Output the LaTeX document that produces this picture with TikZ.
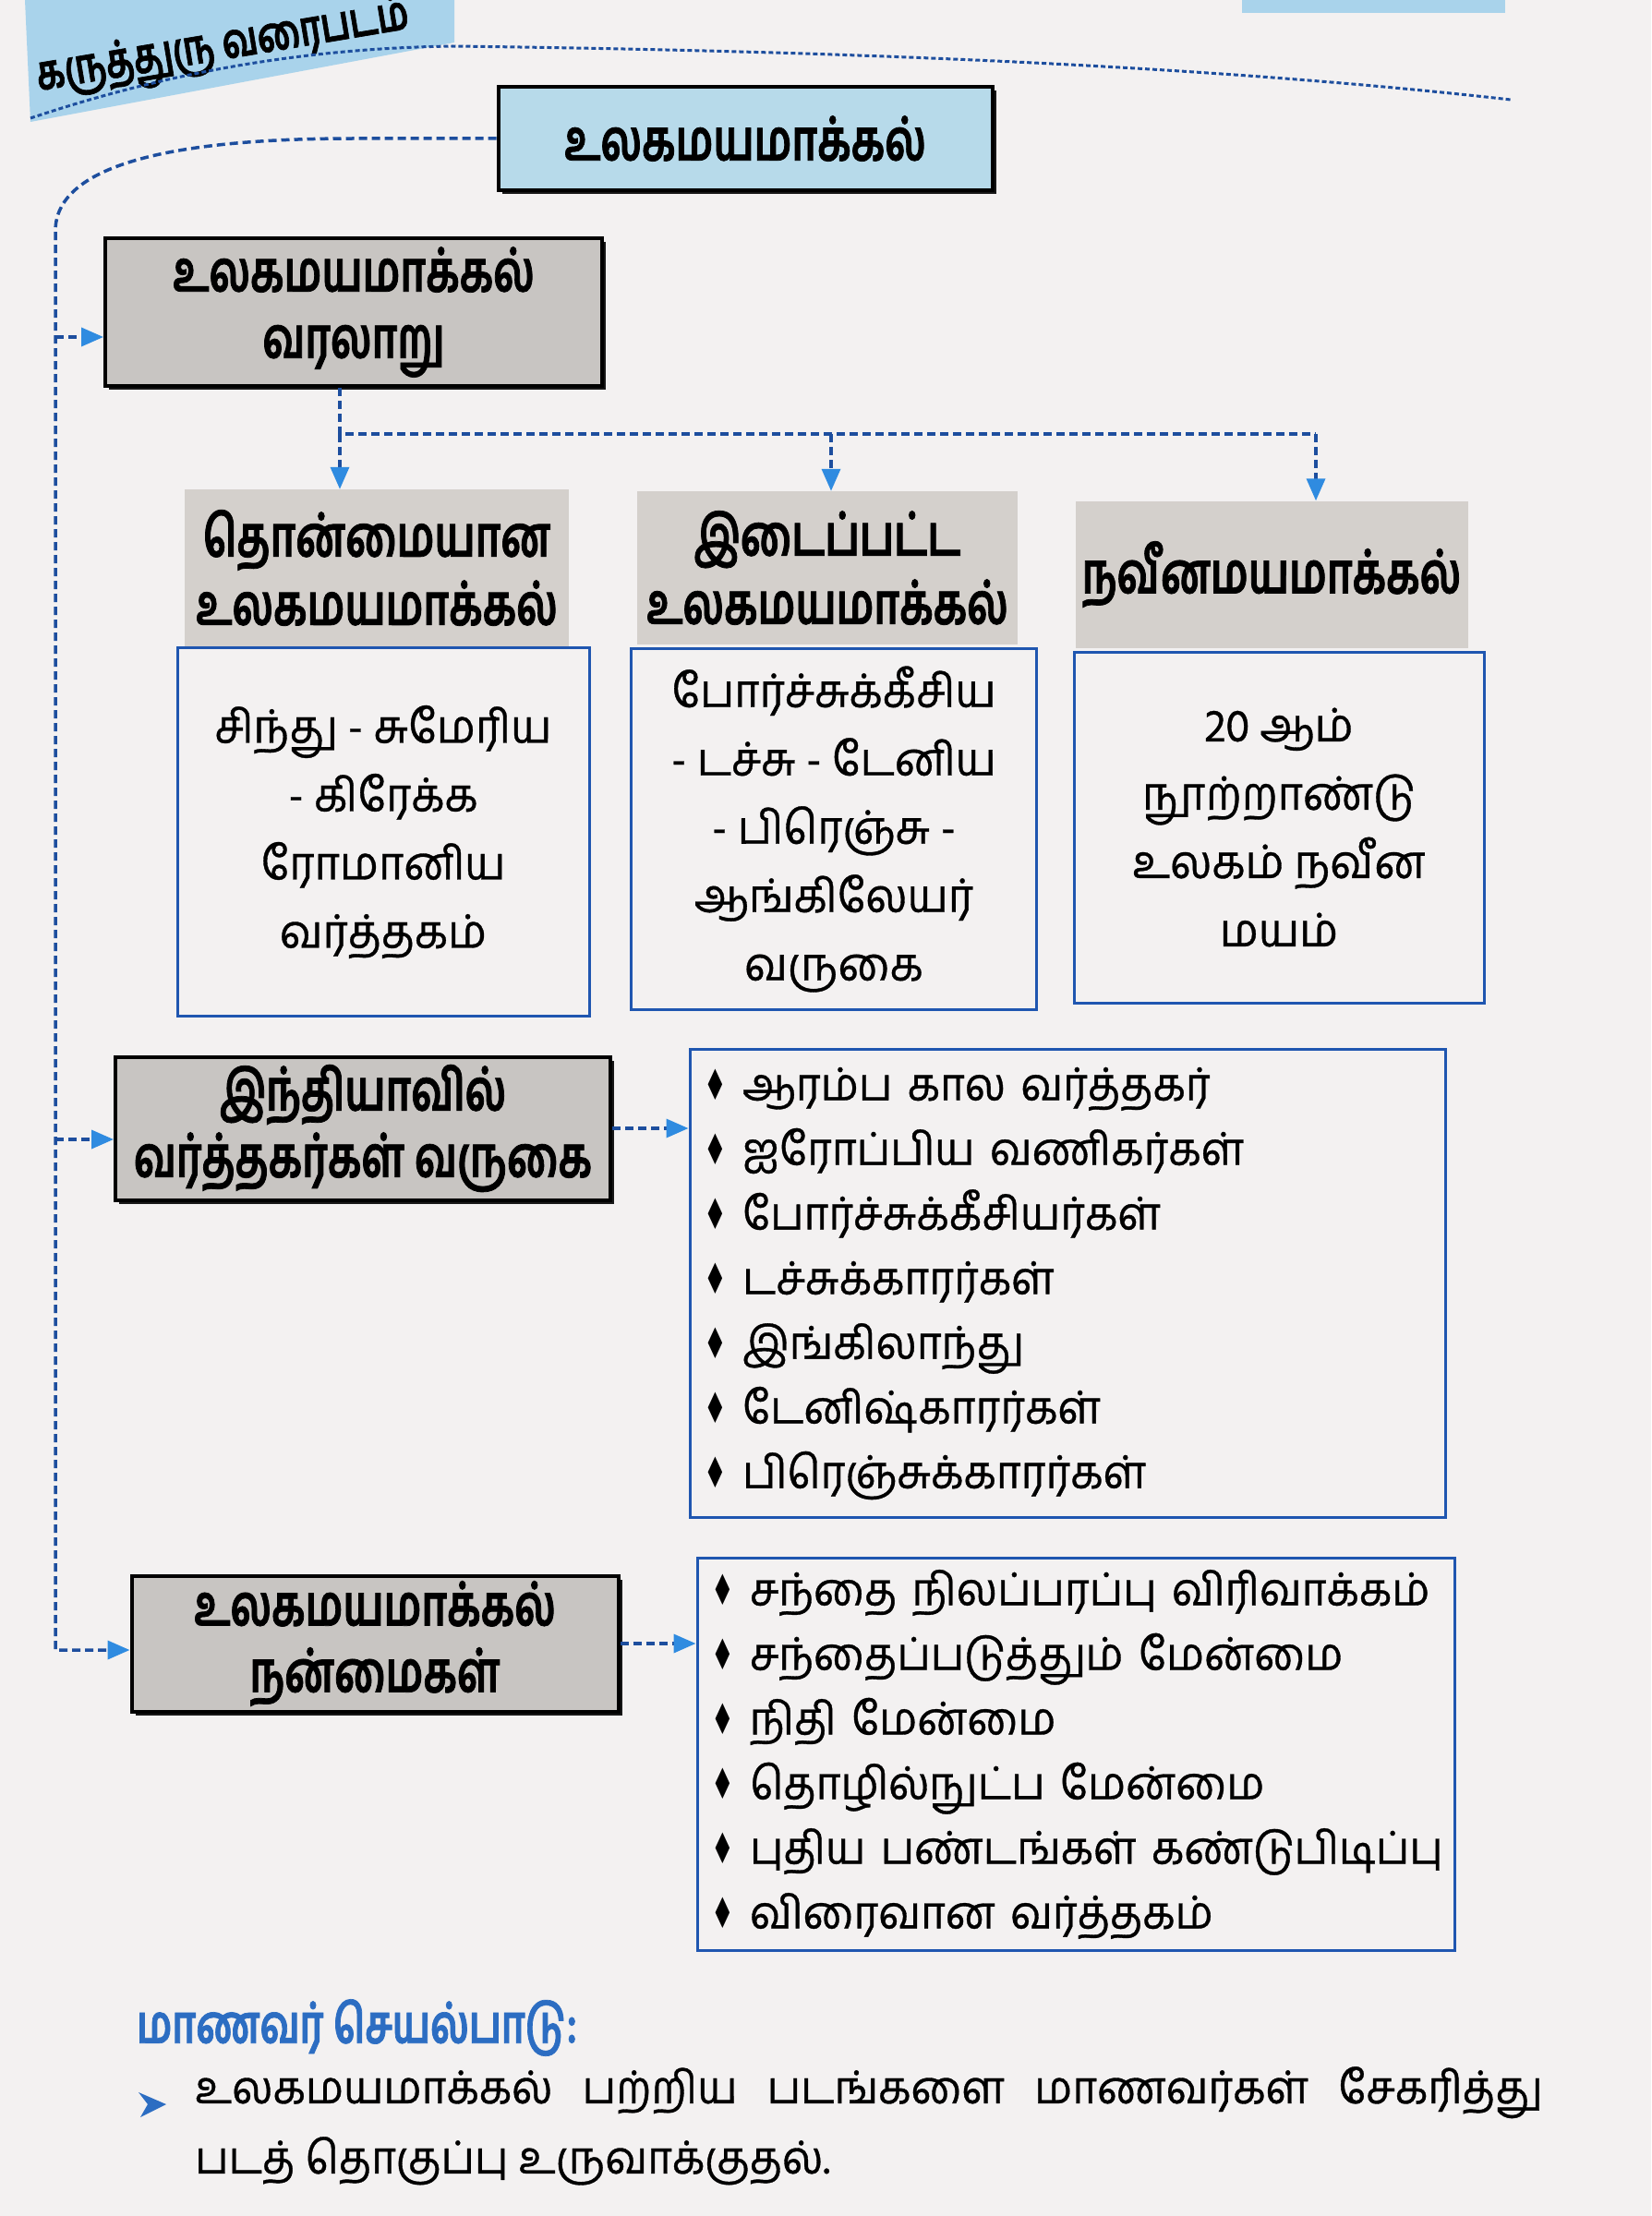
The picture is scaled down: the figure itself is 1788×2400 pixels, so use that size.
\documentclass[tikz,border=0pt]{standalone}
\usepackage{fontspec}
\newfontfamily\tam[Script=Tamil, FakeStretch=0.94, FakeBold=0.7]{Hind Madurai}
\newfontfamily\tamc[Script=Tamil, FakeStretch=0.72, FakeBold=1.2]{Hind Madurai}
\newfontfamily\djv{DejaVu Sans}
\usetikzlibrary{arrows.meta,shadows}
\definecolor{pagebg}{HTML}{F3F1F1}
\definecolor{tabblue}{HTML}{A9D3EB}
\definecolor{titleblue}{HTML}{B7DAEA}
\definecolor{boxgray}{HTML}{C8C5C2}
\definecolor{hdrgray}{HTML}{D4D0CC}
\definecolor{boxblue}{HTML}{1F56B0}
\definecolor{dashblue}{HTML}{1D4E9E}
\definecolor{arrblue}{HTML}{2F8BE0}
\definecolor{actblue}{HTML}{2C6DC2}
\newcommand\bul{\makebox[42pt][l]{\scalebox{0.6}[1.0]{\djv\fontsize{46}{46}\selectfont ♦}}}
\tikzset{
  boldtxt/.style={font=\tamc\bfseries\fontsize{62}{72}\selectfont},
  boxshadow/.style={drop shadow={shadow xshift=4pt, shadow yshift=-4pt, fill=black, opacity=0.9}},
  gbox/.style={draw=black, line width=4pt, fill=boxgray, inner sep=0pt, align=center, boldtxt, boxshadow},
  tbox/.style={draw=black, line width=4pt, fill=titleblue, inner sep=0pt, align=center, boldtxt, boxshadow},
  hdrbox/.style={fill=hdrgray, inner sep=0pt, align=center, font=\tamc\bfseries\fontsize{62}{74}\selectfont},
  bodybox/.style={draw=boxblue, line width=3pt, fill=pagebg, inner sep=0pt, align=center, font=\tam\fontsize{50}{74}\selectfont},
  listbox/.style={draw=boxblue, line width=3pt, fill=pagebg, inner xsep=15pt, inner ysep=0pt, align=left, font=\tam\fontsize{49}{70}\selectfont},
  dl/.style={draw=dashblue, line width=3.5pt, dash pattern=on 9pt off 5pt},
  arr/.style={-{Triangle[length=24pt,width=20pt,color=arrblue]}},
  topdot/.style={draw=dashblue, line width=3pt, dash pattern=on 5pt off 3pt},
}
\begin{document}
\begin{tikzpicture}[x=1pt,y=-1pt]
\fill[pagebg] (0,0) rectangle (1788,2400);
\useasboundingbox (0,0) rectangle (1788,2400);

% header tab
\fill[tabblue] (27,0) -- (492,0) -- (492,46) -- (33,132) -- cycle;
\fill[tabblue] (1345,0) rectangle (1630,14);
\node[rotate=9.5, anchor=base west, font=\tamc\bfseries\fontsize{52}{56}\selectfont, inner sep=0pt] (tabtxt) at (42,98) {கருத்துரு வரைபடம்};
\draw[topdot] (33,128) .. controls (200,72) and (350,52) .. (490,50) .. controls (900,55) and (1300,70) .. (1636,108);

% boxes
\node[tbox, minimum width=535pt, minimum height=112pt] (title) at (807,150) {உலகமயமாக்கல்};
\node[gbox, minimum width=538pt, minimum height=160pt] (hist) at (383,338) {உலகமயமாக்கல்\\வரலாறு};

\node[hdrbox, minimum width=416pt, minimum height=170pt] (hdr1) at (408,615) {தொன்மையான\\உலகமயமாக்கல்};
\node[hdrbox, minimum width=412pt, minimum height=166pt] (hdr2) at (896,615) {இடைப்பட்ட\\உலகமயமாக்கல்};
\node[hdrbox, minimum width=425pt, minimum height=159pt] (hdr3) at (1377,622) {நவீனமயமாக்கல்};

\node[bodybox, minimum width=446pt, minimum height=399pt] (body1) at (415,901) {சிந்து - சுமேரிய\\- கிரேக்க\\ரோமானிய\\வர்த்தகம்};
\node[bodybox, minimum width=439pt, minimum height=391pt] (body2) at (903,898) {போர்ச்சுக்கீசிய\\- டச்சு - டேனிய\\- பிரெஞ்சு -\\ஆங்கிலேயர்\\வருகை};
\node[bodybox, minimum width=444pt, minimum height=380pt] (body3) at (1385,896) {20 ஆம்\\நூற்றாண்டு\\உலகம் நவீன\\மயம்};

\node[gbox, minimum width=536pt, minimum height=155pt] (india) at (393,1222) {இந்தியாவில்\\வர்த்தகர்கள் வருகை};
\node[listbox, minimum width=818pt, minimum height=507pt, text width=788pt] (list1) at (1156,1390) {%
\mbox{\bul ஆரம்ப கால வர்த்தகர்}\\
\mbox{\bul ஐரோப்பிய வணிகர்கள்}\\
\mbox{\bul போர்ச்சுக்கீசியர்கள்}\\
\mbox{\bul டச்சுக்காரர்கள்}\\
\mbox{\bul இங்கிலாந்து}\\
\mbox{\bul டேனிஷ்காரர்கள்}\\
\mbox{\bul பிரெஞ்சுக்காரர்கள்}};

\node[gbox, minimum width=527pt, minimum height=147pt] (ben) at (406,1780) {உலகமயமாக்கல்\\நன்மைகள்};
\node[listbox, minimum width=820pt, minimum height=425pt, text width=790pt] (list2) at (1165,1900) {%
\mbox{\bul சந்தை நிலப்பரப்பு விரிவாக்கம்}\\
\mbox{\bul சந்தைப்படுத்தும் மேன்மை}\\
\mbox{\bul நிதி மேன்மை}\\
\mbox{\bul தொழில்நுட்ப மேன்மை}\\
\mbox{\bul புதிய பண்டங்கள் கண்டுபிடிப்பு}\\
\mbox{\bul விரைவான வர்த்தகம்}};

% connectors
\coordinate (vtop) at (60,250);
\coordinate (v1) at (60,365);
\coordinate (v2) at (60,1234);
\coordinate (v3) at (60,1787);
\draw[dl, arr] (title.west) -- (383,150) .. controls (200,150) and (60,175) .. (vtop) -- (v3) -- (v3 -| ben.west);
\draw[dl, arr] (v1) -- (v1 -| hist.west);
\draw[dl, arr] (v2) -- (v2 -| india.west);

\coordinate (h0) at (368,470);
\coordinate (h1) at (900,470);
\coordinate (h2) at (1425,470);
\draw[dl] (h0 |- hist.south) -- (h0) -- (h2);
\draw[dl, arr] (h0) -- (h0 |- hdr1.north);
\draw[dl, arr] (h1) -- (h1 |- hdr2.north);
\draw[dl, arr] (h2) -- (h2 |- hdr3.north);

\draw[dl, arr] (india.east) -- (india.east -| list1.west);
\draw[dl, arr] (ben.east) -- (ben.east -| list2.west);

% activity
\node[anchor=west, inner sep=0pt, text=actblue, font=\tamc\bfseries\fontsize{58}{60}\selectfont] (act) at (148,2196) {மாணவர் செயல்பாடு:};
\fill[actblue] (150,2266) -- (180,2279) -- (152,2293) -- (160,2279) -- cycle;
\node[anchor=north west, inner sep=0pt, align=left, font=\tam\fontsize{49}{76}\selectfont] (para) at (211,2238) {\makebox[1459pt][s]{உலகமயமாக்கல் பற்றிய படங்களை மாணவர்கள் சேகரித்து}\\படத் தொகுப்பு உருவாக்குதல்.};
\end{tikzpicture}
\end{document}
